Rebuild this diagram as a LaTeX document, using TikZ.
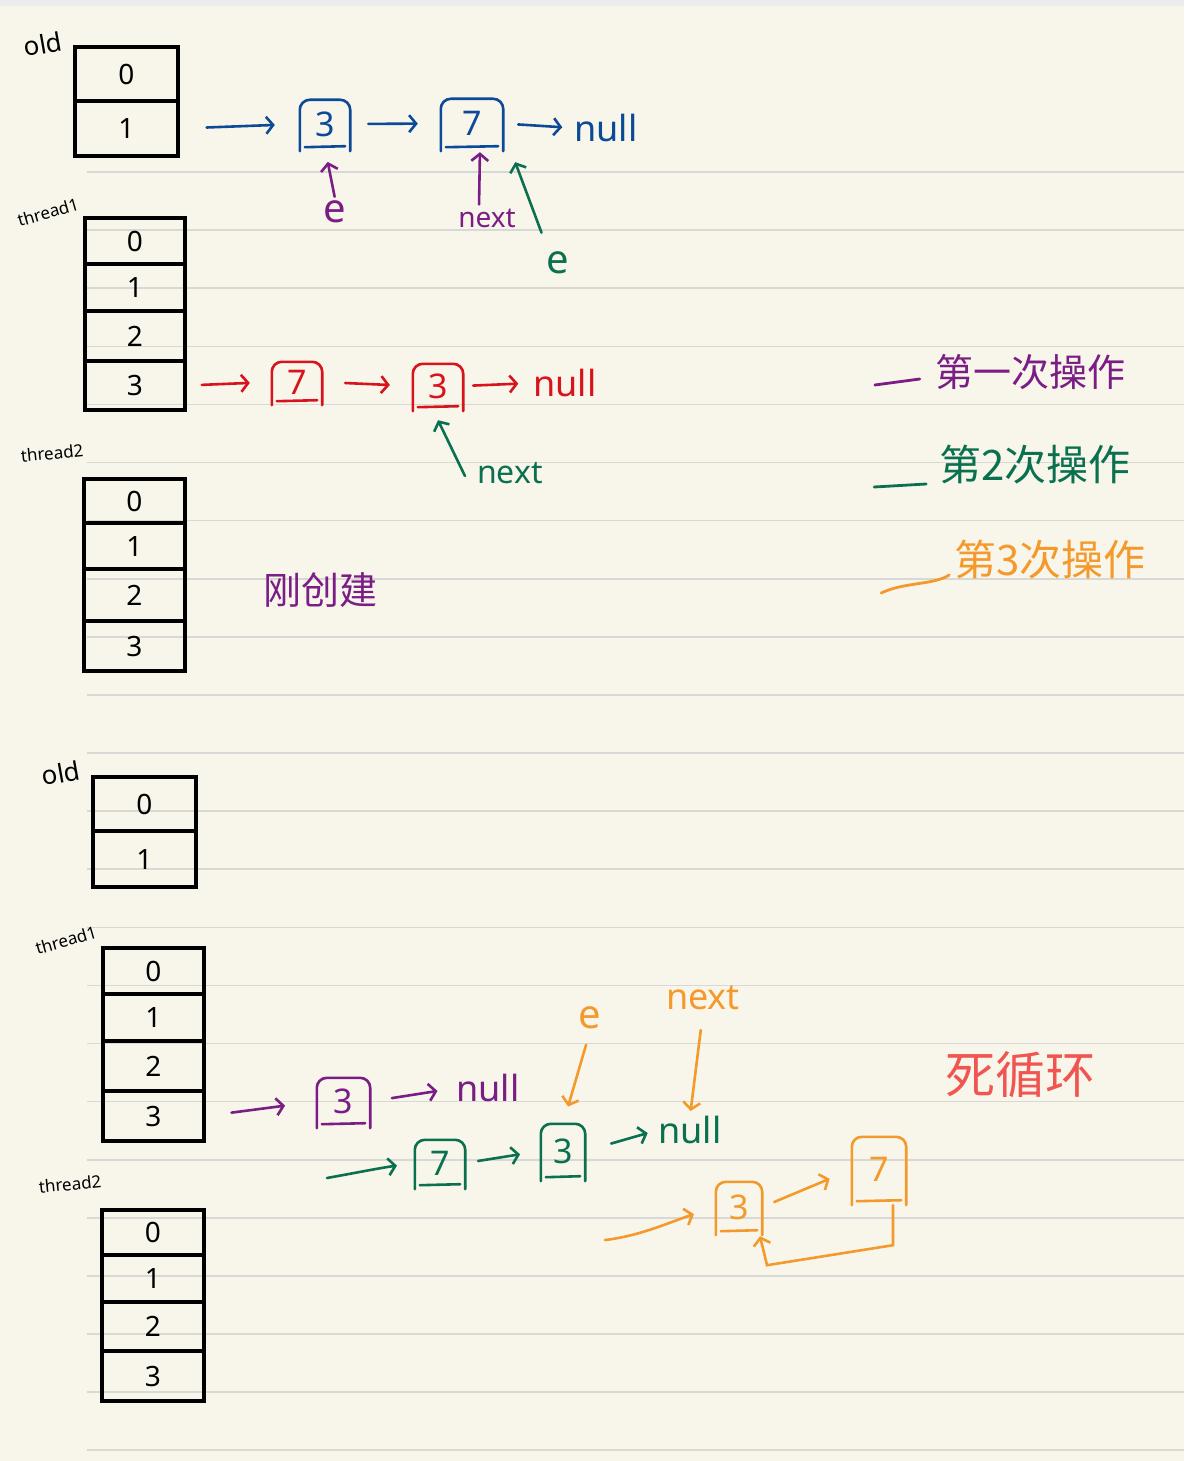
\documentclass[tikz,border=0pt]{standalone}
\usepackage{fontspec}
\setmainfont{Noto Sans}
\newfontfamily\cjk{Noto Sans CJK SC}
\usetikzlibrary{arrows.meta}
\definecolor{paper}{HTML}{F8F6EA}
\definecolor{rule}{HTML}{D8D8D6}
\definecolor{band}{HTML}{ECECEC}
\definecolor{pblue}{HTML}{0C4A98}
\definecolor{pred}{HTML}{D9131C}
\definecolor{ppurple}{HTML}{7A1E86}
\definecolor{pgreen}{HTML}{0A7050}
\definecolor{porange}{HTML}{F4992C}
\definecolor{pcoral}{HTML}{F05552}
\newcommand\fs[1]{\fontsize{#1}{#1}\selectfont}
\newcommand\nodeframe[2]{%
  \draw[#2, line width=2.6pt, rounded corners=10pt, line cap=round]
    ([yshift=-3pt]#1.south west) -- (#1.north west) -- (#1.north east) -- ([yshift=-3pt]#1.south east);
  \draw[#2, line width=2.6pt, line cap=round]
    ([xshift=5pt,yshift=1pt]#1.south west) -- ([xshift=-5pt,yshift=2pt]#1.south east);}
\tikzset{
  cell/.style={draw=black, line width=3.5pt, inner sep=0pt, font=\fs{28}},
  lbl/.style={inner sep=1pt, font=\fs{17}},
  lnode/.style={inner sep=0pt, font=\fs{34}},
  arr/.style={-{Straight Barb[length=7pt,width=17pt]}, line width=2.6pt, line cap=round},
  legline/.style={line width=2.8pt, line cap=round},
}
\begin{document}
\begin{tikzpicture}[x=1pt,y=-1pt]
\useasboundingbox (0,0) rectangle (1184,1461);
\fill[paper] (0,0) rectangle (1184,1461);
\fill[band] (0,0) rectangle (1184,6);
\foreach \k in {0,...,22} \draw[rule, line width=1.6pt] (87,172+58.1*\k) -- (1184,172+58.1*\k);

% ---------- top: old ----------
\node[lbl, font=\fs{26}, rotate=10] (oldA) at (43,44) {old};
\node[cell, minimum width=103, minimum height=54] (o0) at (126.5,74) {0};
\node[cell, minimum width=103, minimum height=55] (o1) at (126.5,128.5) {1};

% ---------- top: thread1 ----------
\node[lbl, rotate=16] (t1A) at (48,212) {thread1};
\node[cell, minimum width=100, minimum height=46] (t1a0) at (135,241) {0};
\node[cell, minimum width=100, minimum height=47] (t1a1) at (135,287.5) {1};
\node[cell, minimum width=100, minimum height=50] (t1a2) at (135,336) {2};
\node[cell, minimum width=100, minimum height=49] (t1a3) at (135,385.5) {3};

% ---------- top: thread2 ----------
\node[lbl, rotate=6] (t2A) at (52,453) {thread2};
\node[cell, minimum width=101, minimum height=44] (t2a0) at (134.5,501) {0};
\node[cell, minimum width=101, minimum height=46] (t2a1) at (134.5,546) {1};
\node[cell, minimum width=101, minimum height=52] (t2a2) at (134.5,595) {2};
\node[cell, minimum width=101, minimum height=50] (t2a3) at (134.5,646) {3};

% ---------- blue list ----------
\node[lnode, text=pblue, minimum width=50, minimum height=48] (b3) at (325,124) {3};
\node[lnode, text=pblue, minimum width=62, minimum height=49] (b7) at (472,123.5) {7};
\node[inner sep=0pt, font=\fs{36}, text=pblue] (bnull) at (606,128) {null};
\nodeframe{b3}{pblue}
\nodeframe{b7}{pblue}
\draw[arr, pblue, shorten <=27pt, shorten >=25pt] (o1.east) -- (b3.west);
\draw[arr, pblue, shorten <=18pt, shorten >=23pt] (b3.east) -- (b7.west);
\draw[arr, pblue, shorten <=15pt, shorten >=12pt] (b7.east) -- (bnull.west);

\node[inner sep=2pt, font=\fs{40}, text=ppurple] (pe1) at (335,212) {e};
\draw[arr, ppurple, shorten <=2pt, shorten >=14pt] (pe1.north) -- (b3.south);
\node[inner sep=2pt, font=\fs{28}, text=ppurple] (pn1) at (487,218) {next};
\draw[arr, ppurple, shorten <=2pt, shorten >=4pt] ([xshift=-8pt]pn1.north) -- ([xshift=8pt]b7.south);
\node[inner sep=3pt, font=\fs{40}, text=pgreen] (ge1) at (558,263) {e};
\draw[arr, pgreen] ([xshift=-2pt,yshift=16pt]ge1.north west) -- ([xshift=12pt,yshift=-14pt]b7.south east);

% ---------- red list ----------
\node[lnode, text=pred, minimum width=50, minimum height=40] (r7) at (297,382) {7};
\node[lnode, text=pred, minimum width=50, minimum height=44] (r3) at (438,386) {3};
\node[inner sep=0pt, font=\fs{36}, text=pred] (rnull) at (565,383) {null};
\nodeframe{r7}{pred}
\nodeframe{r3}{pred}
\draw[arr, pred, shorten <=15pt, shorten >=22pt] (t1a3.east) -- (r7.west);
\draw[arr, pred, shorten <=23pt, shorten >=23pt] (r7.east) -- (r3.west);
\draw[arr, pred, shorten <=10pt, shorten >=15pt] (r3.east) -- (rnull.west);
\node[inner sep=2pt, font=\fs{32}, text=pgreen] (gn1) at (510,473) {next};
\draw[arr, pgreen] ([xshift=-10pt,yshift=-3pt]gn1.west) -- ([yshift=-12pt]r3.south);

\node[inner sep=0pt, font=\cjk\fs{38}, text=ppurple] (gang) at (320,590) {刚创建};

% ---------- legend ----------
\node[inner sep=0pt, font=\cjk\fs{38}, text=ppurple] (leg1) at (1030,372) {第一次操作};
\draw[legline, ppurple] ([xshift=-60pt,yshift=-13pt]leg1.west) -- ([xshift=-15pt,yshift=-7pt]leg1.west);
\node[inner sep=0pt, font=\cjk\fs{42}, text=pgreen] (leg2) at (1035,465) {第2次操作};
\draw[legline, pgreen] ([xshift=-65pt,yshift=-22pt]leg2.west) -- ([xshift=-13pt,yshift=-19pt]leg2.west);
\node[inner sep=0pt, font=\cjk\fs{42}, text=porange] (leg3) at (1050,560) {第3次操作};
\draw[legline, porange] ([xshift=-73pt,yshift=-33pt]leg3.west) .. controls ([xshift=-50pt,yshift=-22pt]leg3.west) and ([xshift=-20pt,yshift=-25pt]leg3.west) .. ([xshift=-5pt,yshift=-15pt]leg3.west);

% ---------- bottom: old ----------
\node[lbl, font=\fs{26}, rotate=10] (oldB) at (61,773) {old};
\node[cell, minimum width=103, minimum height=54] (oldB0) at (144.5,804) {0};
\node[cell, minimum width=103, minimum height=56] (oldB1) at (144.5,859) {1};

% ---------- bottom: thread1 ----------
\node[lbl, rotate=16] (t1B) at (66,940) {thread1};
\node[cell, minimum width=101, minimum height=46] (t1b0) at (153.5,971) {0};
\node[cell, minimum width=101, minimum height=47] (t1b1) at (153.5,1017.5) {1};
\node[cell, minimum width=101, minimum height=50] (t1b2) at (153.5,1066) {2};
\node[cell, minimum width=101, minimum height=50] (t1b3) at (153.5,1116) {3};

% ---------- bottom: thread2 ----------
\node[lbl, rotate=6] (t2B) at (70,1184) {thread2};
\node[cell, minimum width=102, minimum height=45] (t2b0) at (153,1232.5) {0};
\node[cell, minimum width=102, minimum height=47] (t2b1) at (153,1278.5) {1};
\node[cell, minimum width=102, minimum height=49] (t2b2) at (153,1326.5) {2};
\node[cell, minimum width=102, minimum height=50] (t2b3) at (153,1376) {3};

% ---------- purple list (bottom) ----------
\node[lnode, text=ppurple, minimum width=53, minimum height=47] (pb3) at (343.5,1101.5) {3};
\node[inner sep=0pt, font=\fs{36}, text=ppurple] (pnull) at (488,1088) {null};
\nodeframe{pb3}{ppurple}
\draw[arr, ppurple, shorten <=26pt, shorten >=32pt] (t1b3.east) -- (pb3.west);
\draw[arr, ppurple, shorten <=22pt, shorten >=19pt] (pb3.east) -- (pnull.west);

% ---------- green list (bottom) ----------
\coordinate (gs) at (327,1178);
\node[lnode, text=pgreen, minimum width=50, minimum height=46] (gb7) at (440,1163) {7};
\node[lnode, text=pgreen, minimum width=44, minimum height=54] (gb3) at (563,1151) {3};
\node[inner sep=0pt, font=\fs{36}, text=pgreen] (gnull) at (690,1130) {null};
\nodeframe{gb7}{pgreen}
\nodeframe{gb3}{pgreen}
\draw[arr, pgreen, shorten >=18pt] (gs) .. controls (360,1172) and (380,1168) .. (gb7.west);
\draw[arr, pgreen, shorten <=13pt, shorten >=21pt] (gb7.east) -- (gb3.west);
\draw[arr, pgreen, shorten <=27pt, shorten >=11pt] (gb3.east) -- (gnull.west);

% ---------- orange ----------
\node[inner sep=2pt, font=\fs{40}, text=porange] (oe) at (590,1018) {e};
\draw[arr, porange, shorten <=14pt, shorten >=18pt] (oe.south) -- (gb3.north);
\node[inner sep=2pt, font=\fs{36}, text=porange] (on) at (703,998) {next};
\draw[arr, porange, shorten <=18pt, shorten >=5pt] (on.south) -- (gnull.north);

\coordinate (os) at (605,1240);
\node[lnode, text=porange, minimum width=46, minimum height=50] (ob3) at (739,1207) {3};
\node[lnode, text=porange, minimum width=54, minimum height=65] (ob7) at (879,1169.5) {7};
\nodeframe{ob3}{porange}
\nodeframe{ob7}{porange}
\draw[arr, porange, shorten >=23pt] (os) .. controls (640,1236) and (670,1222) .. (ob3.west);
\draw[arr, porange, shorten <=13pt, shorten >=24pt] (ob3.east) -- (ob7.west);
\draw[arr, porange] ([xshift=14pt,yshift=-3pt]ob7.south) -- ++(0,40) -- ([xshift=28pt,yshift=-33pt]ob3.south) -- ([xshift=21pt,yshift=-4pt]ob3.south);

\node[inner sep=0pt, font=\cjk\fs{50}, text=pcoral] (dead) at (1020,1075) {死循环};
\end{tikzpicture}
\end{document}
